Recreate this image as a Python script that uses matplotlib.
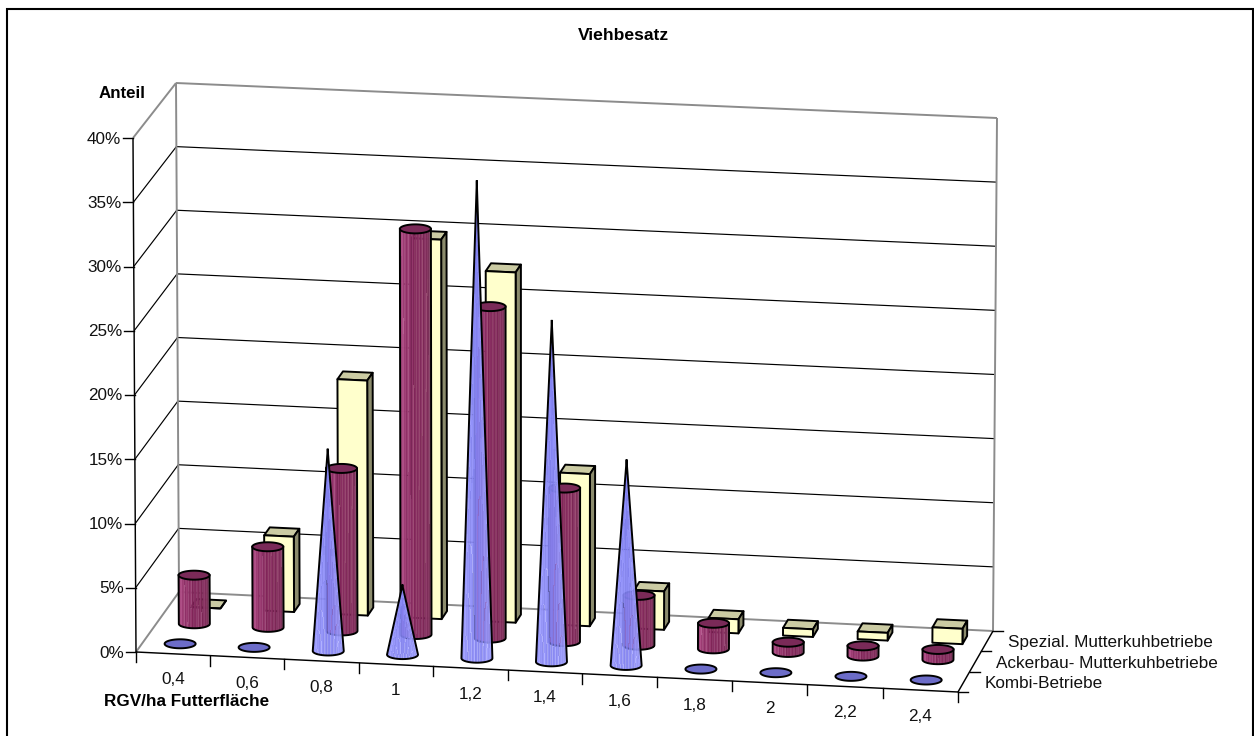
import numpy as np
import matplotlib
matplotlib.use("Agg")
import matplotlib.pyplot as plt
from matplotlib.collections import PolyCollection
from matplotlib.patches import Polygon
from matplotlib.colors import to_rgb

plt.rcParams['font.family'] = ['Liberation Sans', 'DejaVu Sans']

# ---- data (percent) ----
categories = ['0,4', '0,6', '0,8', '1', '1,2', '1,4', '1,6', '1,8', '2', '2,2', '2,4']
kombi = [0, 0, 15.7, 5.4, 37.2, 26.6, 16.0, 0, 0, 0, 0]
ackerbau = [3.8, 6.3, 12.7, 31.7, 25.9, 12.0, 3.9, 2.0, 0.8, 0.8, 0.8]
spezial = [0, 5.9, 18.4, 29.7, 27.4, 11.9, 3.0, 1.1, 0.6, 0.6, 1.2]
series_names = ['Kombi-Betriebe', 'Ackerbau- Mutterkuhbetriebe', 'Spezial. Mutterkuhbetriebe']
value_ticks = [0, 5, 10, 15, 20, 25, 30, 35, 40]
value_labels = ['0%', '5%', '10%', '15%', '20%', '25%', '30%', '35%', '40%']
title = 'Viehbesatz'
value_title = 'Anteil'
category_title = 'RGV/ha Futterfläche'

# ---- 3D box of the chart, as seen on the image ----
FL0, FR0, BL0, BR0 = map(np.array, [(136., 652.), (958., 692.), (179., 592.), (993., 631.)])
FL1, FR1, BL1, BR1 = map(np.array, [(133., 138.), (962., 180.), (176., 83.), (997., 118.)])
VMAX = 40.0
N = len(categories)
PERSP = 0.01


def P(u, d, v):
    """u: 0..1 along categories, d: 0..1 front to back, v: percent."""
    u = u / (1 + PERSP*(1-u))
    h = v / VMAX
    b = (1-u)*(1-d)*FL0 + u*(1-d)*FR0 + (1-u)*d*BL0 + u*d*BR0
    t = (1-u)*(1-d)*FL1 + u*(1-d)*FR1 + (1-u)*d*BL1 + u*d*BR1
    return b*(1-h) + t*h


fig = plt.figure(figsize=(12.54, 7.36), dpi=100)
ax = fig.add_axes([0, 0, 1, 1])
ax.set_xlim(0, 1254)
ax.set_ylim(736, 0)
ax.axis('off')

# frame of the chart
ax.plot([7, 7, 1253.2, 1253.2], [745, 9, 9, 745], color='black', lw=1.5, solid_joinstyle='miter', zorder=1)

GREY = '#8c8c8c'
LW_GRID = 0.85
LW_WALL = 1.4
FS = 12.3
TXT = '#111111'


def line(a, b, color='black', lw=LW_GRID, z=2):
    ax.plot([a[0], b[0]], [a[1], b[1]], color=color, lw=lw, zorder=z, solid_capstyle='butt')


# gridlines on the walls
for v in value_ticks[1:-1]:
    line(P(0, 0, v), P(0, 1, v))
    line(P(0, 1, v), P(1, 1, v))
# wall edges
line(P(0, 1, 0), P(0, 1, VMAX), GREY, LW_WALL)
line(P(1, 1, 0), P(1, 1, VMAX), GREY, LW_WALL)
line(P(0, 1, VMAX), P(1, 1, VMAX), GREY, LW_WALL)
line(P(0, 0, VMAX), P(0, 1, VMAX), GREY, LW_WALL)
line(P(0, 0, 0), P(0, 1, 0), GREY, LW_WALL)
line(P(0, 1, 0), P(1, 1, 0), GREY, LW_WALL)
# axes
line(P(0, 0, 0), P(0, 0, VMAX), 'black', 1.05)
line(P(0, 0, 0), P(1, 0, 0), 'black', 1.05)
line(P(1, 0, 0), P(1, 1, 0), 'black', 1.05)

# value ticks and labels
for v, lab in zip(value_ticks, value_labels):
    p = P(0, 0, v)
    ax.plot([p[0]-10, p[0]], [p[1], p[1]], color='black', lw=1.0, zorder=2)
    ax.text(p[0]-12, p[1]+1, lab, ha='right', va='center', fontsize=FS, color=TXT)

# category ticks and labels
for i in range(N+1):
    p = P(i/N, 0, 0)
    ax.plot([p[0], p[0]], [p[1], p[1]+10], color='black', lw=1.0, zorder=2)
for i, lab in enumerate(categories):
    p = P((i+.5)/N, 0, 0)
    ax.text(p[0], p[1]+26, lab, ha='center', va='center', fontsize=FS, color=TXT)

# depth ticks and labels
for k in range(4):
    p = P(1, k/3, 0)
    ax.plot([p[0], p[0]+10], [p[1], p[1]], color='black', lw=1.0, zorder=2)
for k, lab in enumerate(series_names):
    p = P(1, (k+.5)/3, 0)
    ax.text(p[0]+21, p[1]+1.5, lab, ha='left', va='center', fontsize=FS, color=TXT)

ax.text(623, 35.5, title, ha='center', va='center', fontsize=12.6, fontweight='bold')
ax.text(122, 93, value_title, ha='center', va='center', fontsize=12.2, fontweight='bold')
ax.text(187, 701, category_title, ha='center', va='center', fontsize=12.3, fontweight='bold')

# ---- marks ----
RX, RY = 15.5, 4.5
BOX_U, BOX_D = 15.0/822, 0.0667
LW = 1.4
stripe = np.array([0, .05, -.03, .07, -.06, .03, .06, -.04, .02, -.07, .05, .01, -.03, .06, -.05, .03])


def shade(anchors, t, i):
    ts, cs = zip(*anchors)
    cs = np.array([to_rgb(c) for c in cs])
    col = np.array([np.interp(t, ts, cs[:, j]) for j in range(3)])
    return np.clip(col + stripe[i % len(stripe)]*0.7, 0, 1)


CYL = [(0, '#a45a8c'), (.18, '#a8477f'), (.5, '#84285c'), (.8, '#84325f'), (1, '#8c6076')]
CONE = [(0, '#9c9cff'), (.25, '#9090fa'), (.55, '#7e7eee'), (.85, '#9a9afa'), (1, '#aaaaf6')]
CYL_TOP = '#7a2a58'
DISC = '#6c6cc8'
BOX_FRONT, BOX_TOP, BOX_SIDE = '#ffffcc', '#cbcba3', '#8b8b6c'
NS = 30

z = 10


def arc(c, ts):
    a = np.pi*(1-ts)
    return np.c_[c[0]+RX*np.cos(a), c[1]+RY*np.sin(a)]


def ellipse(c, fc):
    global z
    a = np.linspace(0, 2*np.pi, 60)
    pts = np.c_[c[0]+RX*np.cos(a), c[1]+RY*np.sin(a)]
    ax.add_patch(Polygon(pts, closed=True, fc=fc, ec='black', lw=LW, zorder=z))
    z += 1


def box(u, d, v):
    global z
    a = lambda su, sd, vv: P(u+su*BOX_U, d+sd*BOX_D, vv)
    faces = [
        ([a(-1, 1, v), a(1, 1, v), a(1, -1, v), a(-1, -1, v)], BOX_TOP),
        ([a(1, -1, 0), a(1, 1, 0), a(1, 1, v), a(1, -1, v)], BOX_SIDE),
        ([a(-1, -1, 0), a(1, -1, 0), a(1, -1, v), a(-1, -1, v)], BOX_FRONT),
    ]
    for pts, c in faces:
        ax.add_patch(Polygon(np.array(pts), closed=True, fc=c, ec='black', lw=LW, joinstyle='round', zorder=z))
    z += 1


def cylinder(u, d, v):
    global z
    b, t = P(u, d, 0), P(u, d, v)
    ts = np.linspace(0, 1, NS+1)
    ab, at = arc(b, ts), arc(t, ts)
    polys, cols = [], []
    for i in range(NS):
        polys.append([ab[i], ab[i+1], at[i+1], at[i]])
        cols.append(shade(CYL, (i+.5)/NS, i))
    pc = PolyCollection(polys, facecolors=cols, edgecolors='none', antialiaseds=False, alpha=0.9, zorder=z)
    ax.add_collection(pc)
    z += 1
    outline = np.vstack([at[:1], ab, at[-1:]])
    ax.plot(outline[:, 0], outline[:, 1], color='black', lw=LW, zorder=z)
    z += 1
    ellipse(t, CYL_TOP)


def cone(u, d, v):
    global z
    b, t = P(u, d, 0), P(u, d, v)
    ts = np.linspace(0, 1, NS+1)
    ab = arc(b, ts)
    polys, cols = [], []
    for i in range(NS):
        polys.append([ab[i], ab[i+1], t])
        cols.append(shade(CONE, (i+.5)/NS, i))
    pc = PolyCollection(polys, facecolors=cols, edgecolors='none', antialiaseds=False, alpha=0.72, zorder=z)
    ax.add_collection(pc)
    z += 1
    outline = np.vstack([t, ab, t])
    ax.plot(outline[:, 0], outline[:, 1], color='black', lw=LW, zorder=z, solid_joinstyle='round')
    z += 1


# back row first, front row last
for i, v in enumerate(spezial):
    box((i+.5)/N, 2.5/3, v)
for i, v in enumerate(ackerbau):
    cylinder((i+.5)/N, 1.5/3, v)
for i, v in enumerate(kombi):
    u = (i+.5)/N
    if v > 0:
        cone(u, .5/3, v)
    else:
        ellipse(P(u, .5/3, 0), DISC)

ax.set_xlim(0, 1254)
ax.set_ylim(736, 0)
fig.savefig('out.png', dpi=100, facecolor='white')
